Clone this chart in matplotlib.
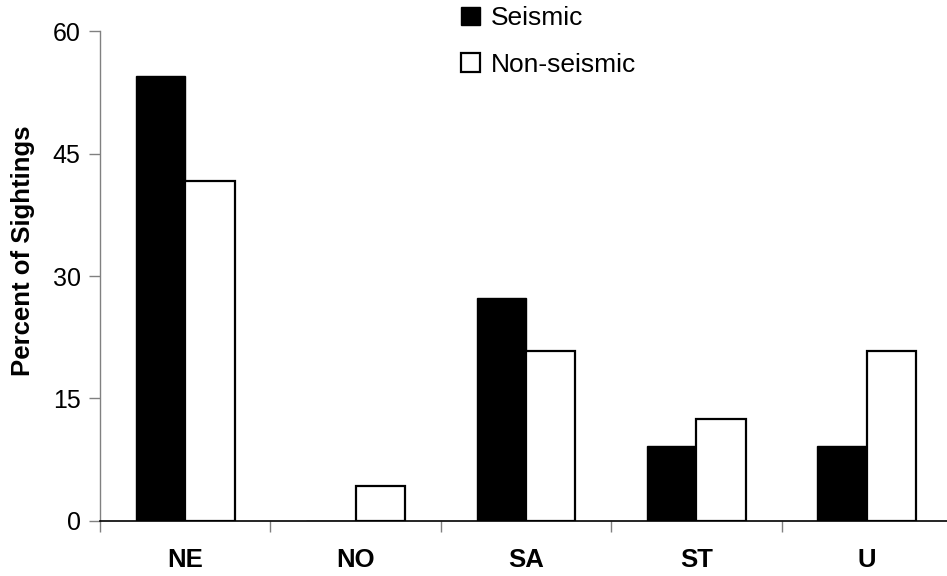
import numpy as np
import matplotlib
matplotlib.use("Agg")
import matplotlib.pyplot as plt
from matplotlib.ticker import FixedLocator, NullFormatter

plt.rcParams['font.family'] = ['Liberation Sans', 'DejaVu Sans']

categories = ["NE", "NO", "SA", "ST", "U"]
seismic = [54.5, 0.0, 27.3, 9.1, 9.1]
non_seismic = [41.7, 4.2, 20.8, 12.5, 20.8]
y_ticks = [0, 15, 30, 45, 60]

fig = plt.figure(figsize=(9.47, 5.76), dpi=100)
ax = fig.add_axes([100 / 947, 55.3 / 576, 847 / 947, 489.4 / 576])

x = np.arange(len(categories))
w = 0.29
b1 = ax.bar(x - w / 2, seismic, width=w, color="black", edgecolor="black",
            linewidth=1.0, label="Seismic", zorder=2)
b2 = ax.bar(x + w / 2, non_seismic, width=w, color="white", edgecolor="black",
            linewidth=1.6, label="Non-seismic", zorder=2)

ax.set_xlim(-0.5, -0.5 + 847 / 170.4)
ax.set_ylim(0, 60)

ax.set_yticks(y_ticks)
ax.set_yticklabels([str(v) for v in y_ticks], fontsize=18)
ax.tick_params(axis="y", direction="out", length=8, width=1, color="#808080", pad=6)

# category labels centred, tick marks between categories
ax.set_xticks(x)
ax.set_xticklabels(categories, fontsize=18.5, fontweight="bold")
ax.tick_params(axis="x", which="major", length=0, pad=20)
ax.xaxis.set_minor_locator(FixedLocator(np.arange(-0.5, 5, 1.0)))
ax.xaxis.set_minor_formatter(NullFormatter())
ax.tick_params(axis="x", which="minor", direction="out", length=8, width=1, color="#808080")

ax.spines["top"].set_visible(False)
ax.spines["right"].set_visible(False)
ax.spines["left"].set_color("#808080")
ax.spines["left"].set_linewidth(1.0)
ax.spines["bottom"].set_color("black")
ax.spines["bottom"].set_linewidth(1.2)
ax.spines["bottom"].set_zorder(3)

ax.set_ylabel("Percent of Sightings", fontsize=18.5, fontweight="bold")
ax.yaxis.set_label_coords(-0.077, 0.551)

fig.legend(handles=[b1, b2], labels=["Seismic", "Non-seismic"],
           loc="upper left", bbox_to_anchor=(456 / 947, 1.0 - 1 / 576),
           frameon=False, fontsize=19, handlelength=0.7, handleheight=0.7,
           handletextpad=0.42, labelspacing=0.85, borderaxespad=0, borderpad=0.2)

fig.savefig("out.png", dpi=100)
